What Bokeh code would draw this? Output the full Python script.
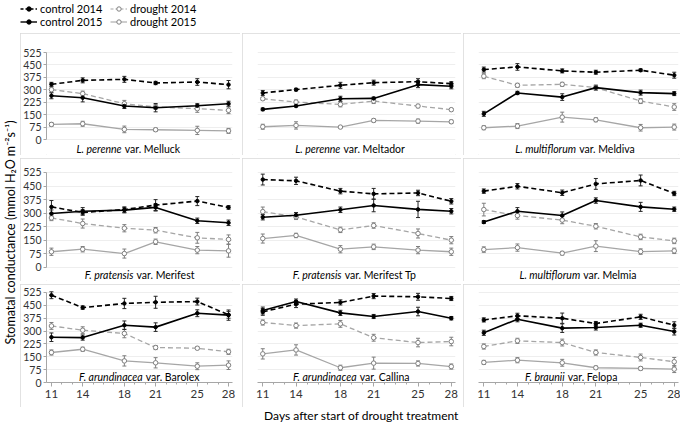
import math
from bokeh.plotting import figure
from bokeh.layouts import row, column
from bokeh.models import (ColumnDataSource, Whisker, TeeHead, FixedTicker, Legend,
                          LegendItem, Range1d, Grid)
from bokeh.core.properties import value
from bokeh.embed import file_html
from bokeh.resources import INLINE

FONT = "Lato"

# ---------------- data ----------------
days = [11, 14, 18, 21, 25, 28]
y_ticks = [0, 75, 150, 225, 300, 375, 450, 525]
minor_days = list(range(11, 29))

species = ["L. perenne", "L. perenne", "L. multiflorum",
           "F. pratensis", "F. pratensis", "L. multiflorum",
           "F. arundinacea", "F. arundinacea", "F. braunii"]
varieties = ["var. Melluck", "var. Meltador", "var. Meldiva",
             "var. Merifest", "var. Merifest Tp", "var. Melmia",
             "var. Barolex", "var. Callina", "var. Felopa"]

series_names = ["control 2014", "drought 2014", "control 2015", "drought 2015"]

control_2014 = [
    [333, 357, 363, 341, 347, 331],
    [281, 301, 327, 343, 349, 337],
    [422, 438, 414, 406, 418, 388],
    [335, 304, 320, 345, 367, 332],
    [486, 479, 422, 407, 412, 366],
    [422, 449, 413, 462, 481, 409],
    [509, 437, 461, 468, 472, 395],
    [412, 457, 467, 504, 500, 490],
    [365, 389, 375, 344, 383, 334],
]
control_2014_err = [
    [12, 15, 18, 10, 20, 25],
    [15, 8, 18, 15, 18, 12],
    [15, 20, 12, 12, 8, 18],
    [35, 15, 15, 30, 25, 10],
    [30, 20, 15, 30, 15, 15],
    [12, 15, 15, 30, 30, 12],
    [20, 10, 30, 35, 20, 20],
    [20, 20, 15, 15, 20, 12],
    [12, 15, 30, 12, 15, 20],
]
drought_2014 = [
    [301, 277, 216, 196, 186, 176],
    [246, 226, 212, 232, 202, 180],
    [382, 327, 333, 313, 232, 196],
    [274, 243, 217, 206, 164, 155],
    [309, 280, 208, 232, 188, 151],
    [320, 287, 262, 228, 169, 147],
    [330, 305, 286, 204, 200, 179],
    [350, 332, 342, 261, 233, 239],
    [210, 243, 233, 175, 146, 121],
]
drought_2014_err = [
    [15, 15, 20, 15, 22, 20],
    [8, 12, 15, 15, 10, 8],
    [15, 12, 12, 12, 15, 20],
    [15, 25, 20, 15, 30, 25],
    [25, 15, 15, 15, 25, 20],
    [35, 20, 20, 15, 15, 15],
    [20, 20, 25, 12, 8, 15],
    [15, 15, 20, 20, 25, 25],
    [15, 15, 20, 15, 20, 25],
]
control_2015 = [
    [264, 252, 202, 192, 204, 216],
    [182, 202, 246, 248, 331, 321],
    [155, 281, 256, 313, 283, 277],
    [298, 311, 317, 332, 258, 247],
    [278, 289, 319, 343, 321, 311],
    [251, 311, 287, 370, 335, 322],
    [264, 262, 334, 323, 404, 393],
    [420, 472, 406, 385, 414, 375],
    [290, 369, 317, 321, 334, 297],
]
control_2015_err = [
    [18, 25, 15, 25, 12, 15],
    [8, 5, 15, 8, 18, 15],
    [15, 10, 20, 15, 15, 12],
    [20, 20, 15, 20, 15, 15],
    [15, 15, 15, 35, 45, 15],
    [8, 20, 20, 15, 25, 12],
    [25, 15, 25, 25, 20, 30],
    [20, 15, 15, 12, 25, 10],
    [15, 15, 25, 15, 12, 20],
]
drought_2015 = [
    [91, 95, 61, 59, 55, 52],
    [77, 85, 75, 115, 111, 107],
    [71, 81, 135, 119, 71, 75],
    [87, 101, 77, 142, 96, 92],
    [160, 177, 101, 114, 96, 87],
    [99, 110, 79, 118, 88, 92],
    [175, 194, 126, 115, 95, 101],
    [167, 190, 86, 113, 111, 93],
    [117, 130, 115, 86, 82, 78],
]
drought_2015_err = [
    [12, 15, 20, 10, 25, 15],
    [15, 22, 5, 10, 12, 10],
    [12, 15, 30, 12, 20, 18],
    [20, 15, 25, 15, 20, 35],
    [25, 12, 20, 15, 20, 20],
    [15, 20, 10, 30, 15, 15],
    [15, 12, 30, 30, 20, 25],
    [30, 30, 15, 35, 15, 15],
    [12, 15, 20, 10, 10, 20],
]

# ---------------- styles ----------------
STYLES = {
    "control 2014": dict(color="#000000", dash="5 3", width=1.6, fill="#000000",
                         mline="#000000", msize=3.5, wcolor="#262626"),
    "drought 2014": dict(color="#a6a6a6", dash="5 3", width=1.3, fill="#ffffff",
                         mline="#808080", msize=4.5, wcolor="#7f7f7f"),
    "control 2015": dict(color="#000000", dash="solid", width=1.6, fill="#000000",
                         mline="#000000", msize=3.5, wcolor="#262626"),
    "drought 2015": dict(color="#a6a6a6", dash="solid", width=1.3, fill="#ffffff",
                         mline="#808080", msize=4.5, wcolor="#7f7f7f"),
}
VALUES = {
    "control 2014": (control_2014, control_2014_err),
    "drought 2014": (drought_2014, drought_2014_err),
    "control 2015": (control_2015, control_2015_err),
    "drought 2015": (drought_2015, drought_2015_err),
}
DRAW_ORDER = ["drought 2015", "drought 2014", "control 2015", "control 2014"]

X_START, X_END = 10.525, 28.38
col_w = [220, 219, 217]
col_border = [(24, 8), (15, 6), (15, 2)]
col_left_px = [20, 242, 463]
row_h = [122, 123, 123]
# (min_border_top, min_border_bottom, y_start, y_end, title_y)
row_geom = [(8, 0, -96.5, 591.4, -54.3),
            (6, 0, -77.4, 569.2, -41.4),
            (4, 25, 0.0, 548.3, 0.0)]
# page-x centre of each panel caption
title_center_px = [124, 346, 572, 134, 351, 575, 136, 349, 570]

TITLE_SIZE = 10.5


def text_width(s, size):
    w = 0.0
    for ch in s:
        if ch in "ilj.,'|!:;":
            w += 0.24
        elif ch in "ftr ":
            w += 0.32
        elif ch.isupper():
            w += 0.64
        elif ch.isdigit():
            w += 0.58
        elif ch in "mw":
            w += 0.84
        else:
            w += 0.53
    return w * size


figs = []
for i in range(9):
    r, c = divmod(i, 3)
    top, bottom, y0, y1, ty = row_geom[r]
    bl, br = col_border[c]
    p = figure(width=col_w[c], height=row_h[r], output_backend="svg", toolbar_location=None,
               x_range=Range1d(X_START, X_END), y_range=Range1d(y0, y1),
               x_axis_location="below" if r == 2 else None,
               y_axis_location="left" if c == 0 else None,
               min_border_left=bl, min_border_right=br,
               min_border_top=top, min_border_bottom=bottom,
               styles={"outline": "1px solid #d9d9d9", "outline-offset": "-1px"})
    p.outline_line_color = None
    p.grid.visible = False
    p.add_layout(Grid(dimension=1, ticker=FixedTicker(ticks=y_ticks),
                      grid_line_color="#eeeeee", grid_line_width=1))
    if c == 0:
        ax = p.yaxis[0]
        ax.ticker = FixedTicker(ticks=y_ticks)
        ax.bounds = (0, 525)
        ax.axis_line_color = "#a6a6a6"
        ax.major_tick_line_color = "#a6a6a6"
        ax.major_tick_out = 3
        ax.major_tick_in = 0
        ax.minor_tick_out = 0
        ax.minor_tick_in = 0
        ax.major_label_standoff = 2
        ax.major_label_text_font = FONT
        ax.major_label_text_font_size = "10.5px"
        ax.major_label_text_color = "#333333"
    if r == 2:
        ax = p.xaxis[0]
        ax.ticker = FixedTicker(ticks=days, minor_ticks=minor_days)
        ax.axis_line_color = "#a6a6a6"
        ax.major_tick_line_color = "#a6a6a6"
        ax.minor_tick_line_color = "#a6a6a6"
        ax.major_tick_out = 4
        ax.major_tick_in = 0
        ax.minor_tick_out = 2
        ax.minor_tick_in = 0
        ax.major_label_standoff = 3
        ax.major_label_text_font = FONT
        ax.major_label_text_font_size = "11.5px"
        ax.major_label_text_color = "#333333"

    for name in DRAW_ORDER:
        vals, errs = VALUES[name]
        st = STYLES[name]
        v = vals[i]
        e = errs[i]
        src = ColumnDataSource(dict(x=days, y=v,
                                    upper=[a + b for a, b in zip(v, e)],
                                    lower=[a - b for a, b in zip(v, e)]))
        p.line("x", "y", source=src, line_color=st["color"], line_width=st["width"],
               line_dash=st["dash"])
        w = Whisker(source=src, base="x", upper="upper", lower="lower",
                    line_color=st["wcolor"], line_width=1,
                    upper_head=TeeHead(size=4, line_color=st["wcolor"], line_width=1),
                    lower_head=TeeHead(size=4, line_color=st["wcolor"], line_width=1))
        p.add_layout(w)
        p.scatter("x", "y", source=src, marker="circle", size=st["msize"],
                  fill_color=st["fill"], line_color=st["mline"], line_width=1)

    # panel caption: italic species + upright variety
    sp, var = species[i], varieties[i]
    w_it = text_width(sp, TITLE_SIZE)
    w_sp = 0.3 * TITLE_SIZE
    w_var = text_width(var, TITLE_SIZE)
    total = w_it + w_sp + w_var
    split = -total / 2 + w_it
    frame_left_px = col_left_px[c] + bl
    frame_w = col_w[c] - bl - br
    px_per_day = frame_w / (X_END - X_START)
    cx = X_START + (title_center_px[i] - frame_left_px) / px_per_day
    baseline = "bottom" if r == 2 else "middle"
    p.text(x=[cx], y=[ty], text=[sp], text_font=value(FONT), text_font_style="italic",
           text_font_size=f"{TITLE_SIZE}px", text_align="right", text_baseline=baseline,
           text_color="#000000", x_offset=split)
    p.text(x=[cx], y=[ty], text=[var], text_font=value(FONT), text_font_style="normal",
           text_font_size=f"{TITLE_SIZE}px", text_align="left", text_baseline=baseline,
           text_color="#000000", x_offset=split + w_sp)
    figs.append(p)

# ---------------- legend strip ----------------
leg = figure(width=685, height=33, output_backend="svg", toolbar_location=None,
             x_range=Range1d(0, 1), y_range=Range1d(0, 1), x_axis_type=None, y_axis_type=None,
             min_border=0)
leg.outline_line_color = None
leg.grid.visible = False
items = {}
nan = float("nan")
for name in series_names:
    st = STYLES[name]
    lr = leg.line([nan], [nan], line_color=st["color"], line_width=st["width"] - 0.2,
                  line_dash="3 2" if st["dash"] != "solid" else "solid")
    sr = leg.scatter([nan], [nan], marker="circle", size=st["msize"], fill_color=st["fill"],
                     line_color=st["mline"], line_width=1)
    items[name] = LegendItem(label=name, renderers=[lr, sr])


def make_legend(names, loc):
    lg = Legend(items=[items[n] for n in names], location=loc, orientation="vertical",
                label_text_font=FONT, label_text_font_size="11px", label_text_color="#000000",
                label_height=11, glyph_height=11, glyph_width=17, label_standoff=3,
                spacing=0, padding=0, margin=0, border_line_color=None,
                background_fill_alpha=0)
    return lg


leg.add_layout(make_legend(["control 2014", "control 2015"], (20, 5)))
leg.add_layout(make_legend(["drought 2014", "drought 2015"], (110, 5)))

# ---------------- axis titles ----------------
ylab = figure(width=20, height=374, output_backend="svg", toolbar_location=None,
              x_range=Range1d(0, 20), y_range=Range1d(0, 374), x_axis_type=None,
              y_axis_type=None, min_border=0)
ylab.outline_line_color = None
ylab.grid.visible = False
ylab.text(x=[9.5], y=[175], text=["Stomatal conductance (mmol H\u2082O m\u207b\u00b2s\u207b\u00b9)"],
          angle=math.pi / 2, text_align="center", text_baseline="middle",
          text_font=value(FONT), text_font_size="12.5px", text_color="#000000")

xlab = figure(width=685, height=16, output_backend="svg", toolbar_location=None,
              x_range=Range1d(0, 685), y_range=Range1d(0, 16), x_axis_type=None,
              y_axis_type=None, min_border=0)
xlab.outline_line_color = None
xlab.grid.visible = False
xlab.text(x=[361], y=[8], text=["Days after start of drought treatment"],
          text_align="center", text_baseline="middle",
          text_font=value(FONT), text_font_size="12px", text_color="#000000")

grid_rows = [row(*figs[k * 3:(k + 1) * 3], spacing=2) for k in range(3)]
grid = column(*grid_rows, spacing=3)
middle = row(ylab, grid, spacing=0)
layout = column(leg, middle, xlab)

open("out.html", "w").write(file_html(layout, INLINE))
